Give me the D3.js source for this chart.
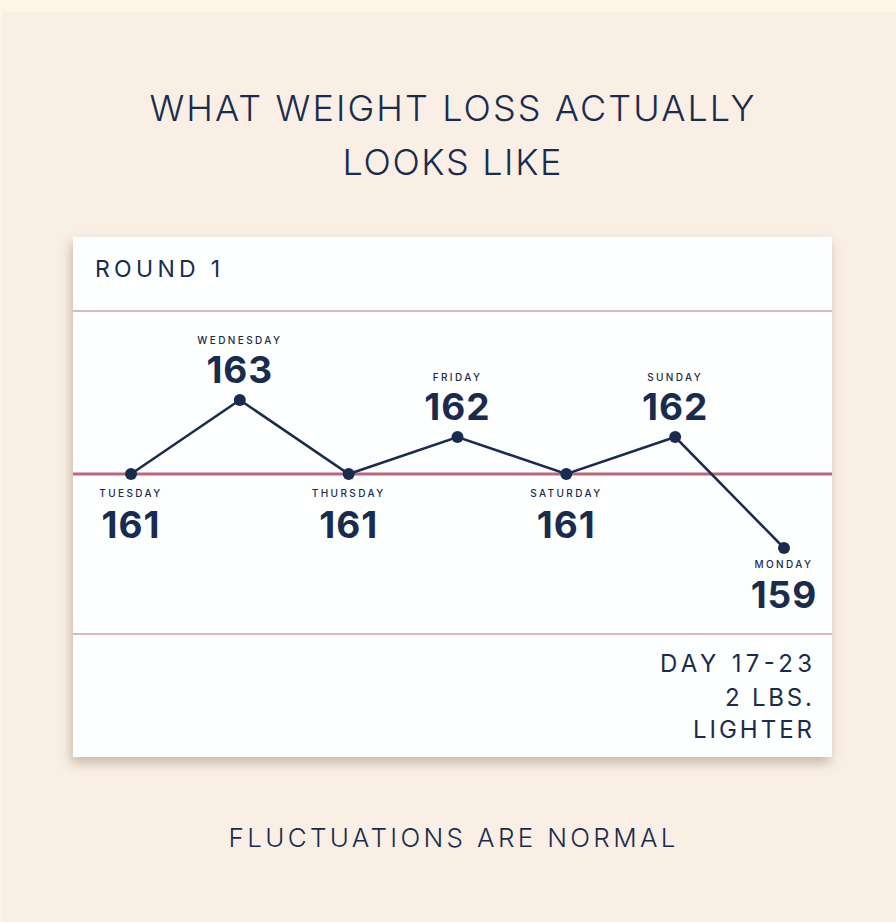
<!DOCTYPE html>
<html><head><meta charset="utf-8">
<script src="https://cdn.jsdelivr.net/npm/d3@7/dist/d3.min.js"></script>
<style>html,body{margin:0;padding:0;background:#fdf5e6;}svg{display:block}</style>
</head><body>
<script>
const days = ["TUESDAY","WEDNESDAY","THURSDAY","FRIDAY","SATURDAY","SUNDAY","MONDAY"];
const weights = [161,163,161,162,161,162,159];
const labelSide = ["below","above","below","above","below","above","below"];
const titleLines = ["WHAT WEIGHT LOSS ACTUALLY","LOOKS LIKE"];
const roundLabel = "ROUND 1";
const summaryLines = ["DAY 17-23","2 LBS.","LIGHTER"];
const footer = "FLUCTUATIONS ARE NORMAL";

const W=896,H=922, navy="#1a2c4e", font="Inter, 'Noto Sans', sans-serif";
const svg=d3.select("body").append("svg").attr("width",W).attr("height",H);
const defs=svg.append("defs");
const f=defs.append("filter").attr("id","sh").attr("x","-10%").attr("y","-10%").attr("width","120%").attr("height","125%");
f.append("feDropShadow").attr("dx",-2).attr("dy",6).attr("stdDeviation",6).attr("flood-color","#8a7560").attr("flood-opacity",0.45);

svg.append("rect").attr("width",W).attr("height",H).attr("fill","#fdf5e6");
svg.append("rect").attr("x",2).attr("y",12).attr("width",W-2).attr("height",H-12).attr("fill","#f9efe5");

// title
svg.selectAll("text.title").data(titleLines).join("text").attr("class","title")
  .attr("x",452).attr("y",(d,i)=>121+i*54).attr("text-anchor","middle")
  .attr("font-family",font).attr("font-size",36).attr("font-weight",300).attr("fill",navy)
  .attr("textLength",(d,i)=>i===0?605:219).attr("lengthAdjust","spacing").text(d=>d);

// card
const card={x:73,y:237,w:759,h:520};
svg.append("rect").attr("x",card.x).attr("y",card.y).attr("width",card.w).attr("height",card.h).attr("fill","#fdfefe").attr("filter","url(#sh)");

svg.append("text").attr("x",95).attr("y",277).attr("font-family",font).attr("font-size",23).attr("font-weight",400)
  .attr("fill",navy).attr("textLength",125).attr("lengthAdjust","spacing").text(roundLabel);

const x=d3.scalePoint().domain(days).range([131,784]);
const y=d3.scaleLinear().domain([159,163]).range([548,400]);

[311,634].forEach(yy=>svg.append("line").attr("x1",card.x).attr("x2",card.x+card.w).attr("y1",yy).attr("y2",yy).attr("stroke","#dcb7c4").attr("stroke-width",2));
svg.append("line").attr("x1",card.x).attr("x2",card.x+card.w).attr("y1",y(161)).attr("y2",y(161)).attr("stroke","#b9667f").attr("stroke-width",3);

const data=days.map((d,i)=>({day:d,w:weights[i],side:labelSide[i]}));
svg.append("path").datum(data).attr("fill","none").attr("stroke",navy).attr("stroke-width",2.5)
  .attr("d",d3.line().x(d=>x(d.day)).y(d=>y(d.w)));
svg.selectAll("circle.pt").data(data).join("circle").attr("class","pt")
  .attr("cx",d=>x(d.day)).attr("cy",d=>y(d.w)).attr("r",6).attr("fill",navy);

const g=svg.selectAll("g.lab").data(data).join("g").attr("class","lab");
g.append("text").attr("x",d=>x(d.day)).attr("y",d=>y(d.w)+(d.side==="above"?-56:(d.day==="MONDAY"?20:23)))
  .attr("text-anchor","middle").attr("font-family",font).attr("font-size",10).attr("font-weight",500)
  .attr("fill",navy).attr("letter-spacing",2.4).text(d=>d.day);
g.append("text").attr("x",d=>x(d.day)).attr("y",d=>y(d.w)+(d.side==="above"?-17:(d.day==="MONDAY"?60:64)))
  .attr("text-anchor","middle").attr("font-family",font).attr("font-size",37).attr("font-weight",700)
  .attr("fill",navy).attr("letter-spacing",1).text(d=>d.w);

svg.selectAll("text.sum").data(summaryLines).join("text").attr("class","sum")
  .attr("x",812).attr("y",(d,i)=>[672,706,738][i]).attr("text-anchor","end")
  .attr("font-family",font).attr("font-size",24).attr("font-weight",400).attr("fill",navy)
  .attr("textLength",(d,i)=>[152,87,119][i]).attr("lengthAdjust","spacing").text(d=>d);

svg.append("text").attr("x",452).attr("y",847).attr("text-anchor","middle").attr("font-family",font)
  .attr("font-size",26).attr("font-weight",300).attr("fill",navy).attr("textLength",447).attr("lengthAdjust","spacing").text(footer);
</script>
</body></html>
